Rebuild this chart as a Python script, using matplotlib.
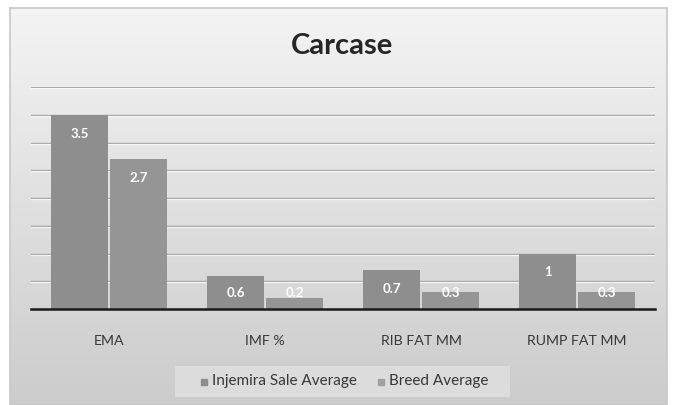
import numpy as np
import matplotlib
matplotlib.use("Agg")
import matplotlib.pyplot as plt
import matplotlib.transforms as mtransforms
from matplotlib.patches import Rectangle

categories = ["EMA", "IMF %", "RIB FAT MM", "RUMP FAT MM"]
injemira = [3.5, 0.6, 0.7, 1.0]
breed = [2.7, 0.2, 0.3, 0.3]
series_names = ["Injemira Sale Average", "Breed Average"]
title = "Carcase"

plt.rcParams['font.family'] = ['Lato', 'DejaVu Sans']

W, H = 679, 405
fig = plt.figure(figsize=(W / 100, H / 100), dpi=100)
fig.patch.set_facecolor("white")

# chart-area background with vertical gradient
bg = fig.add_axes([10 / W, 0, (667 - 10) / W, (405 - 8) / H])
grad = np.linspace(0, 1, 256).reshape(-1, 1)
cols = np.array([0.955, 0.955, 0.955]) * (1 - grad[..., None]) + np.array([0.80, 0.80, 0.80]) * grad[..., None]
bg.imshow(cols, aspect="auto", extent=[0, 1, 0, 1], origin="upper")
bg.set_xlim(0, 1); bg.set_ylim(0, 1)
bg.set_xticks([]); bg.set_yticks([])
for s in bg.spines.values():
    s.set_edgecolor("#c8c8c8")
    s.set_linewidth(1.2)

ax = fig.add_axes([31 / W, 1 - 309 / H, (655 - 31) / W, (309 - 87) / H])
ax.patch.set_alpha(0)
ax.set_xlim(-0.5, len(categories) - 0.5)
ax.set_ylim(0, 4.0)

# gridlines (embossed look)
shift = mtransforms.ScaledTranslation(0, -1.2 / 100, fig.dpi_scale_trans)
for yv in np.arange(0.5, 4.01, 0.5):
    ax.plot([0, 1], [yv, yv], color="#a2a2a2", lw=1.0, zorder=1,
            transform=ax.get_yaxis_transform())
    ax.plot([0, 1], [yv, yv], color="white", lw=0.9, zorder=1, alpha=0.8,
            transform=ax.get_yaxis_transform() + shift)

x = np.arange(len(categories))
bw = 0.365
gap = 0.006
b1 = ax.bar(x - bw / 2 - gap, injemira, width=bw, color="#8e8e8e", zorder=2,
            linewidth=0, label=series_names[0])
b2 = ax.bar(x + bw / 2 + gap, breed, width=bw, color="#959595", zorder=2,
            linewidth=0, label=series_names[1])

ax.plot([0, 1], [0, 0], color="#1a1a1a", lw=1.8, zorder=3, transform=ax.get_yaxis_transform(),
        clip_on=False)

def fmt(v):
    return f"{v:g}"

for bars, vals in ((b1, injemira), (b2, breed)):
    for r, v in zip(bars, vals):
        ly = max(v - 0.34, 0.29)
        ax.text(r.get_x() + r.get_width() / 2, ly, fmt(v), ha="center", va="center",
                color="white", fontsize=9.5, fontweight="bold", zorder=4)

ax.set_xticks(x)
ax.set_xticklabels(categories, fontsize=10.2, color="#383838")
ax.tick_params(axis="x", length=0, pad=19)
ax.set_yticks([])
for s in ax.spines.values():
    s.set_visible(False)

fig.text(342 / W, 1 - 46 / H, title, ha="center", va="center", fontsize=21,
         fontweight="bold", color="#262626")

# legend
leg_ax = fig.add_axes([175 / W, 1 - 397 / H, (510 - 175) / W, (397 - 366) / H])
leg_ax.set_xlim(0, 335); leg_ax.set_ylim(0, 31)
leg_ax.add_patch(Rectangle((0, 0), 335, 31, color="#dcdcdc", zorder=0))
leg_ax.axis("off")
leg_ax.add_patch(Rectangle((26, 12.5), 6, 6, color="#8e8e8e"))
leg_ax.text(37, 15.5, series_names[0], va="center", ha="left", fontsize=11, color="#383838")
leg_ax.add_patch(Rectangle((203, 12.5), 6, 6, color="#a0a0a0"))
leg_ax.text(214, 15.5, series_names[1], va="center", ha="left", fontsize=11, color="#383838")

fig.savefig("out.png", dpi=100)
